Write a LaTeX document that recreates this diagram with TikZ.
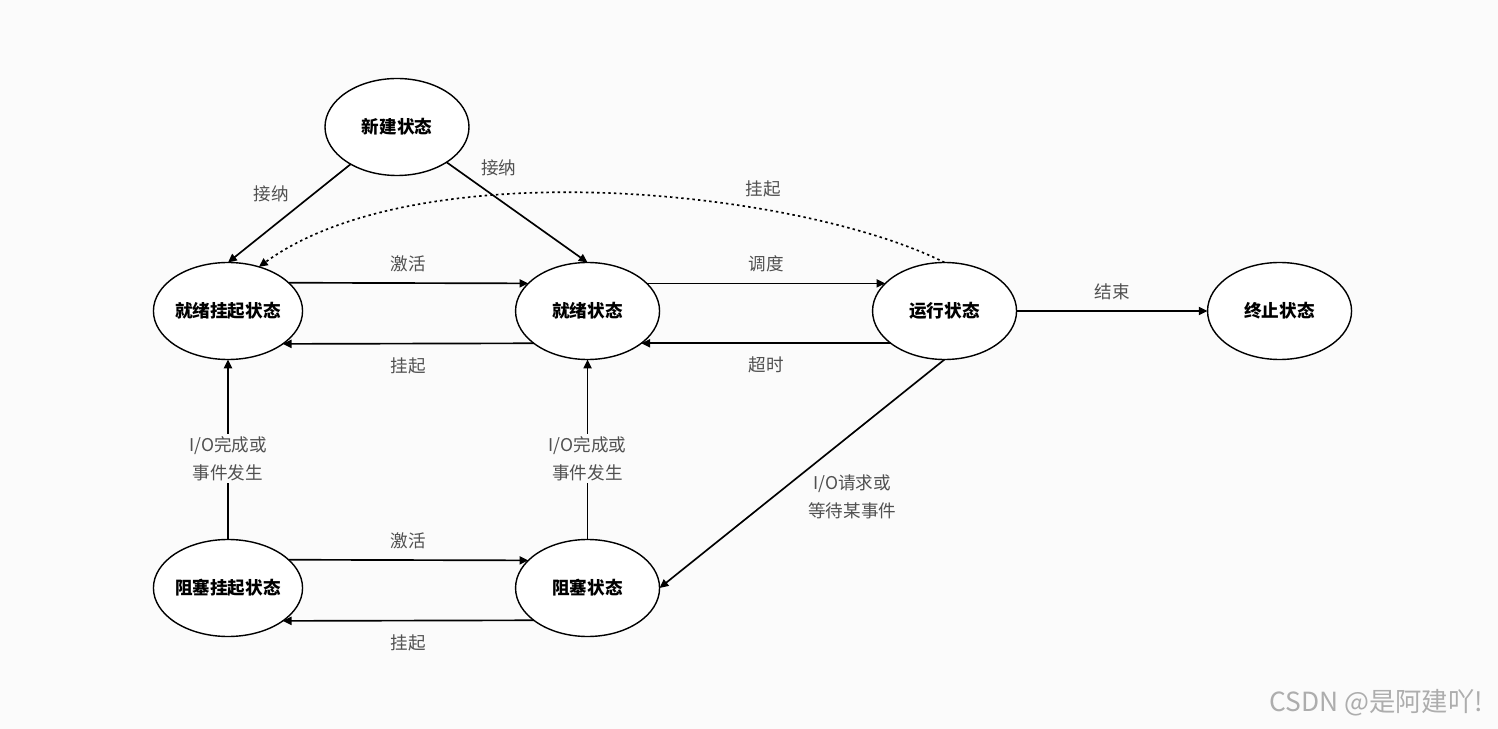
\documentclass[tikz,border=0pt]{standalone}
\usepackage{fontspec}
\setmainfont{Noto Sans CJK SC}
\usetikzlibrary{arrows.meta, positioning, shapes.geometric}
\definecolor{bgcol}{RGB}{251,251,251}
\definecolor{lblcol}{RGB}{80,80,80}
\tikzset{
  state/.style={draw=black, ellipse, line width=0.8pt, minimum width=2.88cm, minimum height=1.94cm, inner sep=0pt, outer sep=0pt, font=\fontsize{10}{12}\selectfont\bfseries, fill=white},
  arrow/.style={-{Triangle[length=5pt, width=4.6pt]}, line width=0.95pt, draw=black},
  dotarrow/.style={arrow, dash pattern=on 1.4pt off 1.8pt},
  lbl/.style={font=\fontsize{10}{16}\selectfont, text=lblcol, align=center}
}
\begin{document}
\begin{tikzpicture}

\fill[bgcol] (-4.56,-8.36) rectangle (25.4,6.22);
\useasboundingbox (-4.56,-8.36) rectangle (25.4,6.22);

% states
\node[state] (readysus) at (0,0) {就绪挂起状态};
\node[state, right=4.26cm of readysus] (ready) {就绪状态};
\node[state, right=4.26cm of ready] (running) {运行状态};
\node[state, right=3.82cm of running] (exitst) {终止状态};
\node[state, below=3.6cm of readysus] (blocksus) {阻塞挂起状态};
\node[state, below=3.6cm of ready] (blocked) {阻塞状态};
\node[state] (newst) at (3.38,3.68) {新建状态};

% transitions
\draw[arrow] (newst) -- node[lbl, pos=0.45, above left] {接纳} (readysus.north);
\draw[arrow] (newst) -- node[lbl, pos=0.2, above right] {接纳} (ready.north);
\draw[dotarrow] (running.north) .. controls (11.44,2.42) and (3.84,3.22) .. node[lbl, pos=0.3, above=3pt] {挂起} (readysus.55);
\draw[arrow] (readysus.25) -- node[lbl, above=2.5pt] {激活} (ready.155);
\draw[arrow] (ready.-149) -- node[lbl, below=4pt] {挂起} (readysus.-31);
\draw[arrow] (ready.25) -- node[lbl, above=2.5pt] {调度} (running.155);
\draw[arrow] (running.-149) -- node[lbl, below=4pt] {超时} (ready.-31);
\draw[arrow] (running) -- node[lbl, above=2.5pt] {结束} (exitst);
\draw[arrow] (blocksus.north) -- node[lbl, pos=0.45, fill=bgcol, inner sep=1pt] {I/O完成或\\事件发生} (readysus.south);
\draw[arrow] (blocked.north) -- node[lbl, pos=0.45, fill=bgcol, inner sep=1pt] {I/O完成或\\事件发生} (ready.south);
\draw[arrow] (running.south) -- node[lbl, pos=0.6, right=16pt] {I/O请求或\\等待某事件} (blocked.east);
\draw[arrow] (blocksus.25) -- node[lbl, above=2.5pt] {激活} (blocked.155);
\draw[arrow] (blocked.-149) -- node[lbl, below=4pt] {挂起} (blocksus.-31);

\node[anchor=west, font=\fontsize{15}{18}\selectfont, text=black!32] (mark) at (20.7,-7.84) {CSDN @是阿建吖!};

\end{tikzpicture}
\end{document}
